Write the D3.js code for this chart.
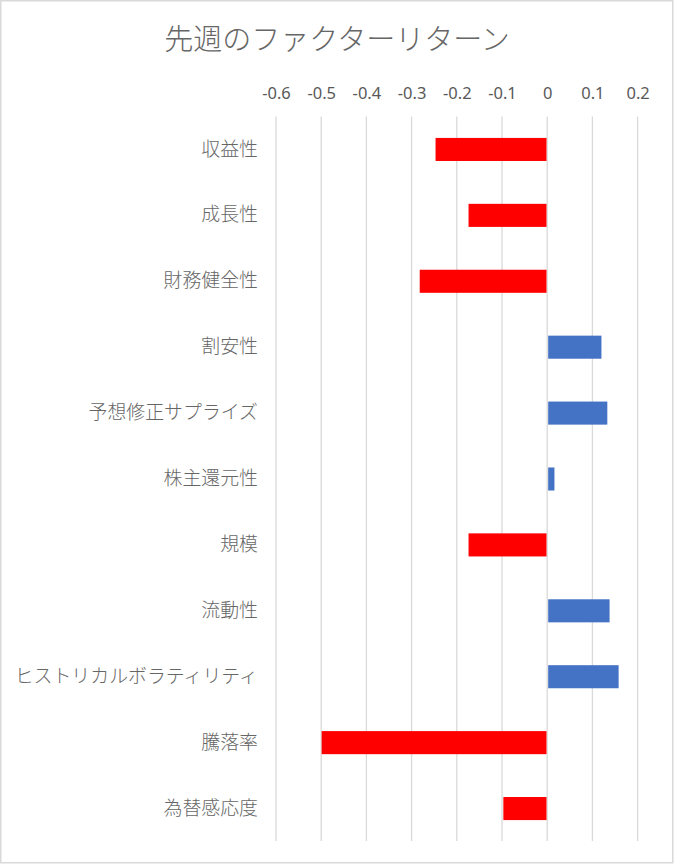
<!DOCTYPE html>
<html>
<head>
<meta charset="utf-8">
<script src="https://cdn.jsdelivr.net/npm/d3@7"></script>
<style>
  body { margin: 0; background: #fff; }
  #plot { width: 674px; height: 865px; }
  text { font-family: "Noto Sans CJK JP", "Noto Sans", sans-serif; fill: #595959; }
</style>
</head>
<body>
<div id="plot"></div>
<script>
var factors = ['収益性','成長性','財務健全性','割安性','予想修正サプライズ','株主還元性',
               '規模','流動性','ヒストリカルボラティリティ','騰落率','為替感応度'];
var returns = [-0.247, -0.174, -0.282, 0.120, 0.133, 0.016, -0.174, 0.138, 0.158, -0.499, -0.097];
var ticks = [-0.6, -0.5, -0.4, -0.3, -0.2, -0.1, 0, 0.1, 0.2];
var title = '先週のファクターリターン';

var w = 674,
    h = 865;

var svg = d3.select('#plot').append('svg')
    .attr('width', w)
    .attr('height', h);

// border
svg.append('rect')
    .attr('x', 0.75).attr('y', 0.75)
    .attr('width', 672).attr('height', 862)
    .style('fill', '#fff')
    .style('stroke', '#d9d9d9')
    .style('stroke-width', 1.5);

svg.append('text')
    .attr('x', 337).attr('y', 50)
    .attr('text-anchor', 'middle')
    .style('font-size', '29px')
    .style('font-weight', 300)
    .style('fill', '#666')
    .text(title);

var data = factors.map(function(d, i){ return {name: d, value: returns[i]}; });

//scales
var x = d3.scaleLinear()
    .domain([-0.6, 0.2])
    .range([276, 637.6]);

var y = d3.scaleBand()
    .domain(factors)
    .range([116.5, 841.5])
    .paddingInner(0.65)
    .paddingOuter(0.325);

// gridlines
svg.append('g')
    .selectAll('.grid')
    .data(ticks)
    .enter()
    .append('line')
    .attr('class', 'grid')
    .attr('x1', function(d){ return x(d); })
    .attr('x2', function(d){ return x(d); })
    .attr('y1', 116.5)
    .attr('y2', 841)
    .style('stroke', '#d9d9d9')
    .style('stroke-width', 1.3);

// tick labels
var xAxis = d3.axisTop(x)
    .tickValues(ticks)
    .tickSize(0)
    .tickPadding(0)
    .tickFormat(function(d){ return d === 0 ? '0' : d3.format('.1f')(d).replace('−', '-'); });

var gx = svg.append('g')
    .attr('transform', 'translate(0,99)')
    .call(xAxis);
gx.select('.domain').remove();
gx.selectAll('text')
    .style('font-family', '"Noto Sans", sans-serif')
    .style('font-size', '16.5px')
    .style('fill', '#595959');

// bars
svg.append('g')
    .selectAll('.bar')
    .data(data)
    .enter()
    .append('rect')
    .attr('class', 'bar')
    .attr('x', function(d){ return d.value < 0 ? x(d.value) : x(0) + 1; })
    .attr('width', function(d){ return d.value < 0 ? x(0) - x(d.value) - 0.7 : x(d.value) - x(0) - 1; })
    .attr('y', function(d){ return y(d.name); })
    .attr('height', y.bandwidth())
    .style('fill', function(d){ return d.value < 0 ? '#ff0000' : '#4472c4'; });

// category labels
var yAxis = d3.axisLeft(y).tickSize(0).tickPadding(0);
var gy = svg.append('g')
    .attr('transform', 'translate(258,0)')
    .call(yAxis);
gy.select('.domain').remove();
gy.selectAll('text')
    .style('font-family', '"Noto Sans CJK JP", sans-serif')
    .style('font-size', '18.9px')
    .style('font-weight', 300)
    .style('fill', '#666');
</script>
</body>
</html>
